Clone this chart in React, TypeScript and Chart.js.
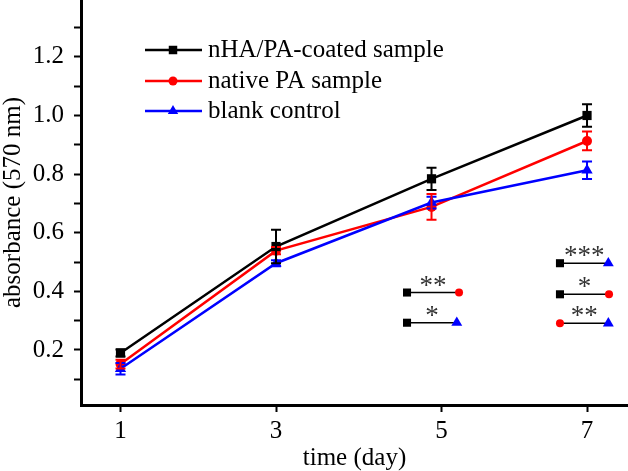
import React, { useEffect, useRef } from 'react';
import { Chart, registerables } from 'chart.js';

Chart.register(...registerables);

// ---- data ----
const days = [1, 3, 5, 7];
const coatedValues = [0.19, 0.553, 0.784, 1.0];
const coatedErrors = [0.012, 0.057, 0.038, 0.038];
const nativeValues = [0.152, 0.539, 0.688, 0.913];
const nativeErrors = [0.015, 0.012, 0.044, 0.032];
const blankValues = [0.136, 0.496, 0.703, 0.813];
const blankErrors = [0.02, 0.01, 0.02, 0.03];

const seriesLabels = ['nHA/PA-coated sample', 'native PA sample', 'blank control'];

// x tick positions (label "5" sits slightly right of day 5 in the original)
const xTickValues = [1, 3, 5.13, 7];
const xTickLabels = ['1', '3', '5', '7'];
const yTickValues = [0.1, 0.2, 0.3, 0.4, 0.5, 0.6, 0.7, 0.8, 0.9, 1.0, 1.1, 1.2, 1.3];

// significance comparisons
const sigX1 = [4.685, 4.685, 6.652, 6.652, 6.652];
const sigX2 = [5.354, 5.325, 7.274, 7.283, 7.274];
const sigY = [0.396, 0.293, 0.496, 0.39, 0.291];
const sigFrom = [0, 0, 0, 0, 1];
const sigTo = [1, 2, 2, 1, 2];
const sigStars = ['**', '*', '***', '*', '**'];

const COLORS = ['#000000', '#ff0000', '#0000ff'];
const MAIN_STYLES = ['rect', 'circle', 'triangle'];
const MAIN_RADII = [6.5, 5, 6.5];
const SIG_RADII = [5.7, 4, 6.3];
const FONT = '"Liberation Serif", "Times New Roman", serif';
const FONT_SIZE = 25;

const seriesValues = [coatedValues, nativeValues, blankValues];
const seriesErrors = [coatedErrors, nativeErrors, blankErrors];

function drawMarker(ctx: CanvasRenderingContext2D, style: string, x: number, y: number, r: number, color: string) {
  ctx.save();
  ctx.fillStyle = color;
  ctx.beginPath();
  if (style === 'rect') {
    const s = r * Math.SQRT1_2;
    ctx.rect(x - s, y - s, 2 * s, 2 * s);
  } else if (style === 'circle') {
    ctx.arc(x, y, r, 0, Math.PI * 2);
  } else {
    let rad = 0;
    ctx.moveTo(x + Math.sin(rad) * r, y - Math.cos(rad) * r);
    rad += (2 * Math.PI) / 3;
    ctx.lineTo(x + Math.sin(rad) * r, y - Math.cos(rad) * r);
    rad += (2 * Math.PI) / 3;
    ctx.lineTo(x + Math.sin(rad) * r, y - Math.cos(rad) * r);
    ctx.closePath();
  }
  ctx.fill();
  ctx.restore();
}

const errorBarPlugin = {
  id: 'errorBars',
  afterDatasetsDraw(chart: any) {
    const ctx = chart.ctx;
    const yScale = chart.scales.y;
    [2, 1, 0].forEach((i) => {
      const meta = chart.getDatasetMeta(i);
      meta.data.forEach((pt: any, j: number) => {
        const v = seriesValues[i][j];
        const e = seriesErrors[i][j];
        const yTop = yScale.getPixelForValue(v + e);
        const yBot = yScale.getPixelForValue(v - e);
        ctx.save();
        ctx.strokeStyle = COLORS[i];
        ctx.lineWidth = 2;
        ctx.beginPath();
        ctx.moveTo(pt.x, yTop);
        ctx.lineTo(pt.x, yBot);
        ctx.moveTo(pt.x - 5, yTop);
        ctx.lineTo(pt.x + 5, yTop);
        ctx.moveTo(pt.x - 5, yBot);
        ctx.lineTo(pt.x + 5, yBot);
        ctx.stroke();
        ctx.restore();
      });
    });
  },
};

const annotationPlugin = {
  id: 'annotations',
  afterDraw(chart: any) {
    const ctx = chart.ctx;
    const xs = chart.scales.x;
    const ys = chart.scales.y;
    // significance stars
    ctx.save();
    ctx.fillStyle = '#333333';
    ctx.font = `27px ${FONT}`;
    ctx.textAlign = 'center';
    ctx.textBaseline = 'alphabetic';
    sigStars.forEach((s, k) => {
      const cx = (xs.getPixelForValue(sigX1[k]) + xs.getPixelForValue(sigX2[k])) / 2;
      const cy = ys.getPixelForValue(sigY[k]);
      ctx.fillText(s, cx, cy + 1);
    });
    ctx.restore();

    // legend
    const rows = [50, 81, 111];
    ctx.save();
    seriesLabels.forEach((label, i) => {
      const y = rows[i];
      ctx.strokeStyle = COLORS[i];
      ctx.lineWidth = 2.5;
      ctx.beginPath();
      ctx.moveTo(145, y);
      ctx.lineTo(202, y);
      ctx.stroke();
      drawMarker(ctx, MAIN_STYLES[i], 173, y, MAIN_RADII[i] - 0.5, COLORS[i]);
      ctx.fillStyle = '#000';
      ctx.font = `${FONT_SIZE}px ${FONT}`;
      ctx.textAlign = 'left';
      ctx.textBaseline = 'middle';
      ctx.fillText(label, 208, y);
    });
    ctx.restore();
  },
};

export default function App() {
  const ref = useRef<HTMLCanvasElement>(null);

  useEffect(() => {
    if (!ref.current) return;
    Chart.defaults.font.family = FONT;
    Chart.defaults.font.size = FONT_SIZE;
    Chart.defaults.color = '#000';

    const mainSets = seriesValues.map((vals, i) => ({
      label: seriesLabels[i],
      data: days.map((d, j) => ({ x: d, y: vals[j] })),
      borderColor: COLORS[i],
      backgroundColor: COLORS[i],
      pointBackgroundColor: COLORS[i],
      pointBorderColor: COLORS[i],
      pointBorderWidth: 0,
      pointStyle: MAIN_STYLES[i],
      pointRadius: MAIN_RADII[i],
      borderWidth: 2.5,
      showLine: true,
      order: [0, 2, 1][i],
    }));

    const sigSets = sigStars.map((_, k) => ({
      label: 'sig' + k,
      data: [
        { x: sigX1[k], y: sigY[k] },
        { x: sigX2[k], y: sigY[k] },
      ],
      borderColor: '#000',
      borderWidth: 1.5,
      showLine: true,
      pointStyle: [MAIN_STYLES[sigFrom[k]], MAIN_STYLES[sigTo[k]]],
      pointRadius: [SIG_RADII[sigFrom[k]], SIG_RADII[sigTo[k]]],
      pointBackgroundColor: [COLORS[sigFrom[k]], COLORS[sigTo[k]]],
      pointBorderWidth: 0,
      order: 5,
    }));

    const zeroPad = (scale: any) => {
      scale.paddingTop = 0;
      scale.paddingBottom = 0;
      scale.paddingLeft = 0;
      scale.paddingRight = 0;
    };

    const chart = new Chart(ref.current, {
      type: 'scatter',
      data: { datasets: [...mainSets, ...sigSets] as any },
      options: {
        animation: false,
        responsive: false,
        events: [],
        layout: { padding: 0, autoPadding: false },
        plugins: {
          legend: { display: false },
          tooltip: { enabled: false },
        },
        scales: {
          x: {
            type: 'linear',
            min: 0.492,
            max: 7.527,
            afterBuildTicks: (scale: any) => {
              scale.ticks = xTickValues.map((v) => ({ value: v }));
            },
            afterFit: (scale: any) => {
              scale.height = 66;
              zeroPad(scale);
            },
            ticks: {
              autoSkip: false,
              maxRotation: 0,
              padding: 4,
              callback: (_v: any, idx: number) => xTickLabels[idx],
            },
            grid: {
              display: true,
              drawOnChartArea: false,
              drawTicks: true,
              tickLength: 7,
              tickWidth: 2,
              tickColor: '#000',
            },
            border: { display: true, color: '#000', width: 3 },
            title: {
              display: true,
              text: 'time (day)',
              font: { size: FONT_SIZE, family: FONT, lineHeight: 1.0 },
              padding: { top: 0, bottom: 0 },
            },
          },
          y: {
            type: 'linear',
            min: 0.0123,
            max: 1.394,
            afterBuildTicks: (scale: any) => {
              scale.ticks = yTickValues.map((v) => ({ value: v }));
            },
            afterFit: (scale: any) => {
              scale.width = 81;
              zeroPad(scale);
            },
            ticks: {
              autoSkip: false,
              padding: 10,
              callback: (v: any) => (Math.round(v * 10) % 2 === 0 ? Number(v).toFixed(1) : ''),
            },
            grid: {
              display: true,
              drawOnChartArea: false,
              drawTicks: true,
              tickLength: 7,
              tickWidth: 2,
              tickColor: '#000',
            },
            border: { display: true, color: '#000', width: 3 },
            title: {
              display: true,
              text: 'absorbance (570 nm)',
              font: { size: FONT_SIZE, family: FONT, lineHeight: 1.1 },
              padding: { top: 0, bottom: 0 },
            },
          },
        },
      },
      plugins: [errorBarPlugin, annotationPlugin],
    });
    return () => chart.destroy();
  }, []);

  return (
    <div style={{ position: 'absolute', left: 0, top: 0, width: 628, height: 471, background: '#fff' }}>
      <canvas ref={ref} width={628} height={471} />
    </div>
  );
}
